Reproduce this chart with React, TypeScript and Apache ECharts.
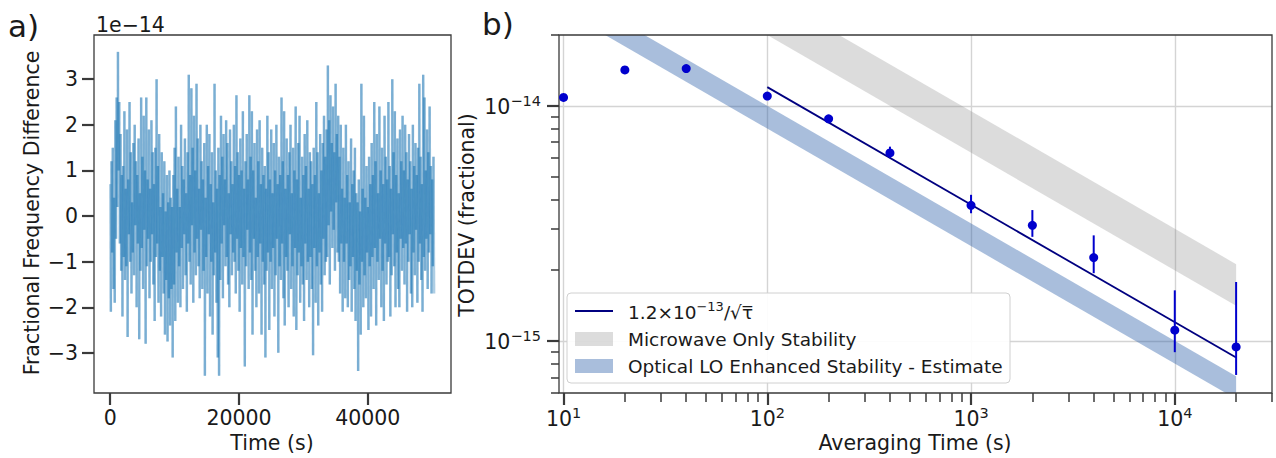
import React, { useEffect, useRef } from "react";
import * as echarts from "echarts";

// ---------- Panel a: fractional frequency difference (units of 1e-14), one sample every 100 s ----------
const SAMPLE_STEP_S = 100;
const FFD: number[] = [
  0.7, -2.1, 1.2, -0.8, 1.5, -1.6, 0.4, -1.9, 2.1, -0.5, 2.6, 0.2, 3.6, 1.0, 2.5, -0.6, 1.8, -1.2, 0.9, -2.2, 1.1, -0.9, 2.3, -1.4,
  0.6, -1.1, 1.9, -2.65, 0.8, -0.4, 2.5, -1.0, 1.4, -1.7, 0.3, -0.8, 1.6, -1.3, 2.0, -0.2, 1.2, -2.0, 0.9, -0.6, 1.7, -2.7, 0.5, -1.2,
  2.6, -0.7, 1.3, -1.6, 2.2, -0.3, 1.0, -2.8, 2.6, -1.1, 0.8, -0.5, 1.9, -1.8, 0.6, -1.0, 2.1, -0.4, 1.4, -1.5, 0.7, -2.3, 1.5, -0.9,
  3.0, -0.6, 1.1, -1.9, 1.8, -1.2, 0.2, -2.2, 1.4, -0.9, 0.5, -1.7, 1.2, -2.6, 0.1, -1.4, 0.9, -2.75, 0.3, -1.8, 1.0, -2.4, 0.4, -1.6,
  0.2, -3.1, 0.9, -1.5, 1.5, -2.3, 2.4, -0.8, 0.6, -1.9, 1.3, -1.1, 0.2, -2.0, 2.0, -0.7, 1.1, -1.6, 0.8, -0.4, 1.7, -1.3, 0.5, -2.1,
  1.4, -0.6, 3.1, -1.0, 0.9, -1.5, 2.8, -0.2, 1.5, -1.9, 2.2, -0.8, 1.0, -1.3, 2.9, -0.5, 1.7, -1.1, 0.6, -1.8, 2.0, -0.3, 1.2, -1.6,
  0.8, -1.2, 1.6, -3.5, 0.4, -0.9, 2.0, -1.7, 1.1, -0.4, 1.8, -2.2, 0.7, -1.0, 1.4, -2.6, 0.3, -1.3, 2.9, -0.8, 1.0, -1.9, 0.6, -3.1,
  1.5, -3.5, 0.9, -1.4, 2.2, -0.6, 1.3, -1.8, 1.8, -0.2, 0.8, -1.1, 2.1, -0.9, 1.6, -1.5, 0.5, -2.0, 1.9, -0.4, 1.2, -1.3, 0.7, -0.8,
  2.0, -1.0, 1.1, -1.7, 2.65, -0.5, 1.4, -1.2, 0.9, -2.1, 1.7, -0.7, 1.0, -1.5, 2.3, -0.9, 0.6, -3.3, 1.2, -1.1, 1.8, -0.3, 0.8, -1.6,
  2.65, -0.8, 1.3, -1.4, 2.3, -2.6, 1.0, -0.5, 1.6, -1.2, 0.4, -2.0, 1.9, -0.9, 1.2, -1.7, 2.1, -0.6, 0.7, -2.6, 1.5, -1.0, 0.9, -1.5,
  1.1, -3.1, 0.6, -1.2, 2.2, -0.8, 1.4, -2.5, 0.8, -1.0, 1.9, -1.6, 0.5, -0.7, 1.6, -2.2, 1.0, -1.3, 2.0, -0.5, 0.7, -3.0, 1.3, -1.1,
  0.9, -1.4, 2.6, -0.6, 1.2, -1.8, 2.3, -2.4, 0.6, -0.9, 1.7, -1.2, 0.9, -2.0, 1.4, -0.4, 2.0, -1.6, 0.5, -1.1, 1.5, -2.2, 1.0, -0.7,
  2.4, -2.5, 0.8, -1.3, 1.6, -0.8, 2.2, -1.9, 0.4, -1.1, 1.3, -1.5, 0.9, -2.3, 1.8, -0.6, 1.1, -1.4, 2.1, -1.0, 0.6, -2.0, 1.4, -0.9,
  1.2, -1.6, 0.7, -3.05, 1.5, -0.7, 0.9, -1.9, 2.5, -1.1, 1.4, -2.4, 0.5, -0.8, 1.8, -1.5, 1.0, -2.1, 1.6, -0.5, 2.2, -1.3, 1.3, -1.0,
  1.9, -0.9, 3.3, -0.2, 2.1, -1.5, 2.65, 0.1, 1.6, -0.7, 2.4, -0.3, 1.4, -1.2, 2.9, 0.3, 1.8, -0.8, 2.2, -1.0, 1.3, -1.7, 2.0, -0.6,
  0.6, -2.1, 1.5, -1.0, 0.4, -1.8, 2.0, -0.6, 0.9, -2.0, 1.2, -1.4, 0.3, -1.1, 1.7, -2.1, 0.7, -0.9, 1.0, -1.6, 1.5, -2.3, 0.5, -1.2,
  0.3, -3.4, 0.8, -1.5, 0.1, -2.6, 2.9, -1.0, 0.6, -2.0, 2.2, -1.3, 0.4, -1.8, 1.1, -0.8, 0.2, -2.5, 1.3, -1.1, 0.7, -2.2, 1.6, -0.9,
  0.9, -1.6, 2.5, -0.7, 1.2, -2.4, 1.8, -1.0, 0.5, -1.4, 2.4, -0.5, 1.0, -2.0, 1.5, -1.2, 0.7, -2.3, 2.2, -0.6, 1.3, -1.5, 0.8, -1.0,
  2.5, -0.9, 1.1, -2.2, 0.6, -1.3, 3.0, -0.4, 1.4, -1.1, 2.3, -2.0, 0.9, -0.8, 1.7, -1.6, 0.5, -2.0, 1.9, -0.5, 1.2, -1.2, 2.2, -0.7,
  1.0, -1.5, 2.0, -0.6, 1.4, -2.1, 0.8, -1.0, 1.8, -0.4, 1.2, -1.7, 0.6, -2.0, 2.0, -0.8, 1.1, -1.3, 1.6, -0.3, 0.9, -1.9, 1.5, -1.0,
  2.9, -0.6, 1.3, -1.4, 0.7, -2.1, 3.1, -0.9, 2.6, -1.2, 1.0, -0.5, 1.9, -1.6, 1.4, -0.8, 2.4, -0.4, 1.1, -1.7, 0.8, -1.1, 1.3, -1.7,
];
const A_X_TICKS = [0, 20000, 40000];
const A_Y_TICKS = [-3, -2, -1, 0, 1, 2, 3];

// ---------- Panel b: total deviation ----------
const TAU = [10, 20, 40, 100, 200, 400, 1000, 2000, 4000, 10000, 20000];
const TOTDEV = [1.085e-14, 1.42e-14, 1.44e-14, 1.1e-14, 8.8e-15, 6.3e-15, 3.77e-15, 3.1e-15, 2.26e-15, 1.11e-15, 9.42e-16];
const ERR_LO = [1.07e-14, 1.4e-14, 1.42e-14, 1.08e-14, 8.6e-15, 6.0e-15, 3.49e-15, 2.77e-15, 1.94e-15, 8.95e-16, 7.16e-16];
const ERR_HI = [1.1e-14, 1.44e-14, 1.46e-14, 1.12e-14, 9.0e-15, 6.7e-15, 4.18e-15, 3.6e-15, 2.81e-15, 1.64e-15, 1.78e-15];

const FIT_TAU = [100, 20000];
const FIT_VAL = [1.2e-14, 8.49e-16];

const MW_TAU = [100, 20000];
const MW_LO = [2.0e-14, 1.41e-15];
const MW_HI = [3.0e-14, 2.12e-15];

const OPT_TAU = [10, 20000];
const OPT_LO = [2.53e-14, 5.66e-16];
const OPT_HI = [3.16e-14, 7.07e-16];

const B_X_MAJOR = [10, 100, 1000, 10000];
const B_X_MINOR = [20, 30, 40, 50, 60, 70, 80, 90, 200, 300, 400, 500, 600, 700, 800, 900, 2000, 3000, 4000, 5000, 6000, 7000, 8000, 9000, 20000, 30000];
const B_Y_MAJOR = [1e-15, 1e-14];
const B_Y_MINOR = [6e-16, 7e-16, 8e-16, 9e-16, 2e-15, 3e-15, 4e-15, 5e-15, 6e-15, 7e-15, 8e-15, 9e-15, 2e-14];

const LEGEND_NAMES = ["Microwave Only Stability", "Optical LO Enhanced Stability - Estimate"];

const FONT = "DejaVu Sans";
const TXT = "#1a1a1a";
const SPINE = "#3a3a3a";
const GRAY_FILL = "rgba(128,128,128,0.28)";
const BLUE_FILL = "rgba(40,92,168,0.4)";
const PT_BLUE = "#0000cd";
const FIT_COLOR = "#000080";

const powLabel = (v: number) => {
  const e = Math.round(Math.log10(v));
  return `{b|10}{s|${String(e).replace("-", "\u2212")}}`;
};
const powRich = {
  b: { fontSize: 20.5, fontFamily: FONT, color: TXT, lineHeight: 24, verticalAlign: "bottom" },
  s: { fontSize: 14.5, fontFamily: FONT, color: TXT, lineHeight: 14, verticalAlign: "top" },
};

const bandSeries = (tau: number[], lo: number[], hi: number[], fill: string) => ({
  type: "custom",
  xAxisIndex: 1,
  yAxisIndex: 1,
  clip: true,
  silent: true,
  z: 1,
  data: tau.slice(0, -1).map((t, i) => [t, lo[i], hi[i], tau[i + 1], lo[i + 1], hi[i + 1]]),
  encode: { x: [0, 3], y: [1, 2, 4, 5] },
  renderItem: (_p: any, api: any) => {
    const p1 = api.coord([api.value(0), api.value(2)]);
    const p2 = api.coord([api.value(3), api.value(5)]);
    const p3 = api.coord([api.value(3), api.value(4)]);
    const p4 = api.coord([api.value(0), api.value(1)]);
    return { type: "polygon", shape: { points: [p1, p2, p3, p4] }, style: { fill } };
  },
});

export default function App() {
  const ref = useRef<HTMLDivElement>(null);
  useEffect(() => {
    if (!ref.current) return;
    const chart = echarts.init(ref.current, null, { renderer: "svg" });
    const tickStyle = (w: number) => ({ color: SPINE, width: w });
    const noLine = { show: false, onZero: false };
    const option: any = {
      animation: false,
      backgroundColor: "#ffffff",
      textStyle: { fontFamily: FONT },
      grid: [
        { left: 94, top: 35, width: 357, height: 358, show: true, borderColor: SPINE, borderWidth: 1.3, backgroundColor: "transparent", z: 5 },
        { left: 559, top: 35, width: 713, height: 358, show: true, borderColor: SPINE, borderWidth: 1.3, backgroundColor: "transparent", z: 5 },
      ],
      xAxis: [
        {
          gridIndex: 0, type: "value", min: -2520, max: 52920, position: "bottom",
          axisLine: noLine,
          axisTick: { show: true, length: 12, lineStyle: tickStyle(2.2), customValues: A_X_TICKS },
          axisLabel: { customValues: A_X_TICKS, fontSize: 20.5, fontFamily: FONT, color: TXT, margin: 14, formatter: (v: number) => String(v) },
          splitLine: { show: false },
        },
        {
          gridIndex: 1, type: "log", logBase: 10, min: 9.5, max: 30000, position: "bottom",
          axisLine: noLine,
          axisTick: { show: true, length: 12, lineStyle: tickStyle(2.2), customValues: B_X_MAJOR },
          axisLabel: { customValues: B_X_MAJOR, formatter: powLabel, rich: powRich, margin: 12 },
          splitLine: { show: true, lineStyle: { color: "#d4d4d4", width: 1.4 } },
        },
        {
          gridIndex: 1, type: "log", logBase: 10, min: 9.5, max: 30000, position: "bottom",
          axisLine: noLine,
          axisTick: { show: true, length: 9, lineStyle: tickStyle(1.5), customValues: B_X_MINOR },
          axisLabel: { show: false },
          splitLine: { show: false },
        },
      ],
      yAxis: [
        {
          gridIndex: 0, type: "value", min: -3.88, max: 3.97, position: "left",
          axisLine: noLine,
          axisTick: { show: true, length: 12, lineStyle: tickStyle(2.2), customValues: A_Y_TICKS },
          axisLabel: {
            customValues: A_Y_TICKS, fontSize: 20.5, fontFamily: FONT, color: TXT, margin: 16,
            formatter: (v: number) => (v < 0 ? "\u2212" + Math.abs(v) : String(v)),
          },
          splitLine: { show: false },
        },
        {
          gridIndex: 1, type: "log", logBase: 10, min: 6e-16, max: 2e-14, position: "left",
          axisLine: noLine,
          axisTick: { show: true, length: 12, lineStyle: tickStyle(2.2), customValues: B_Y_MAJOR },
          axisLabel: { customValues: B_Y_MAJOR, formatter: powLabel, rich: powRich, margin: 18 },
          splitLine: { show: true, lineStyle: { color: "#d4d4d4", width: 1.4 } },
        },
        {
          gridIndex: 1, type: "log", logBase: 10, min: 6e-16, max: 2e-14, position: "left",
          axisLine: noLine,
          axisTick: { show: true, length: 8, lineStyle: tickStyle(1.5), customValues: B_Y_MINOR },
          axisLabel: { show: false },
          splitLine: { show: false },
        },
      ],
      series: [
        {
          type: "custom", xAxisIndex: 0, yAxisIndex: 0, silent: true, clip: true, z: 2,
          data: FFD.slice(0, -1).map((v, i) => [i * SAMPLE_STEP_S, v, (i + 1) * SAMPLE_STEP_S, FFD[i + 1]]),
          encode: { x: [0, 2], y: [1, 3] },
          renderItem: (_p: any, api: any) => {
            const a = api.coord([api.value(0), api.value(1)]);
            const b = api.coord([api.value(2), api.value(3)]);
            return {
              type: "line",
              shape: { x1: a[0], y1: a[1], x2: b[0], y2: b[1] },
              style: { stroke: "#1f77b4", lineWidth: 2.4, opacity: 0.36, lineCap: "butt" },
            };
          },
        },
        bandSeries(MW_TAU, MW_LO, MW_HI, GRAY_FILL),
        bandSeries(OPT_TAU, OPT_LO, OPT_HI, BLUE_FILL),
        {
          type: "line", xAxisIndex: 1, yAxisIndex: 1, silent: true, z: 3,
          data: FIT_TAU.map((t, i) => [t, FIT_VAL[i]]),
          showSymbol: false, symbol: "none",
          lineStyle: { color: FIT_COLOR, width: 1.8 },
        },
        {
          type: "custom", xAxisIndex: 1, yAxisIndex: 1, silent: true, z: 4, clip: true,
          data: TAU.map((t, i) => [t, ERR_LO[i], ERR_HI[i]]),
          encode: { x: 0, y: [1, 2] },
          renderItem: (_p: any, api: any) => {
            const a = api.coord([api.value(0), api.value(1)]);
            const b = api.coord([api.value(0), api.value(2)]);
            return { type: "line", shape: { x1: a[0], y1: a[1], x2: b[0], y2: b[1] }, style: { stroke: PT_BLUE, lineWidth: 2 } };
          },
        },
        {
          type: "scatter", xAxisIndex: 1, yAxisIndex: 1, silent: true, z: 5,
          data: TAU.map((t, i) => [t, TOTDEV[i]]),
          symbolSize: 9,
          itemStyle: { color: PT_BLUE, opacity: 1 },
        },
      ],
      graphic: [
        { type: "text", left: 8, top: 10, style: { text: "a)", font: `31px ${FONT}`, fill: TXT } },
        { type: "text", left: 482, top: 8, style: { text: "b)", font: `31px ${FONT}`, fill: TXT } },
        { type: "text", x: 96, y: 25, style: { text: "1e\u221214", font: `20.5px ${FONT}`, fill: TXT, textAlign: "left", textVerticalAlign: "middle" } },
        { type: "text", x: 272, y: 443, style: { text: "Time (s)", font: `20.5px ${FONT}`, fill: TXT, textAlign: "center", textVerticalAlign: "middle" } },
        { type: "text", x: 32, y: 213, rotation: Math.PI / 2, style: { text: "Fractional Frequency Difference", font: `20.5px ${FONT}`, fill: TXT, textAlign: "center", textVerticalAlign: "middle" } },
        { type: "text", x: 915, y: 443, style: { text: "Averaging Time (s)", font: `20.5px ${FONT}`, fill: TXT, textAlign: "center", textVerticalAlign: "middle" } },
        { type: "text", x: 467, y: 215, rotation: Math.PI / 2, style: { text: "TOTDEV (fractional)", font: `20.5px ${FONT}`, fill: TXT, textAlign: "center", textVerticalAlign: "middle" } },
        { type: "rect", z: 100, shape: { x: 567, y: 293, width: 443, height: 90, r: 4 }, style: { fill: "rgba(255,255,255,0.92)", stroke: "#d0d0d0", lineWidth: 1 } },
        { type: "line", z: 101, shape: { x1: 575, y1: 311, x2: 613, y2: 311 }, style: { stroke: FIT_COLOR, lineWidth: 2 } },
        { type: "rect", z: 101, shape: { x: 575, y: 332, width: 38, height: 14 }, style: { fill: GRAY_FILL } },
        { type: "rect", z: 101, shape: { x: 575, y: 359, width: 38, height: 14 }, style: { fill: BLUE_FILL } },
        {
          type: "text", z: 101, x: 628, y: 311,
          style: {
            text: "{a|1.2×10}{s|\u221213}{a|/√τ\u0305}",
            textVerticalAlign: "middle",
            rich: {
              a: { fontSize: 18.5, fontFamily: FONT, fill: TXT, lineHeight: 22, verticalAlign: "bottom" },
              s: { fontSize: 13, fontFamily: FONT, fill: TXT, lineHeight: 13, verticalAlign: "top" },
            },
          },
        },
        { type: "text", z: 101, x: 628, y: 339, style: { text: LEGEND_NAMES[0], font: `18.5px ${FONT}`, fill: TXT, textVerticalAlign: "middle" } },
        { type: "text", z: 101, x: 628, y: 366, style: { text: LEGEND_NAMES[1], font: `18.5px ${FONT}`, fill: TXT, textVerticalAlign: "middle" } },
      ],
    };
    chart.setOption(option);
    return () => chart.dispose();
  }, []);
  return <div ref={ref} style={{ position: "fixed", left: 0, top: 0, width: 1276, height: 458 }} />;
}
